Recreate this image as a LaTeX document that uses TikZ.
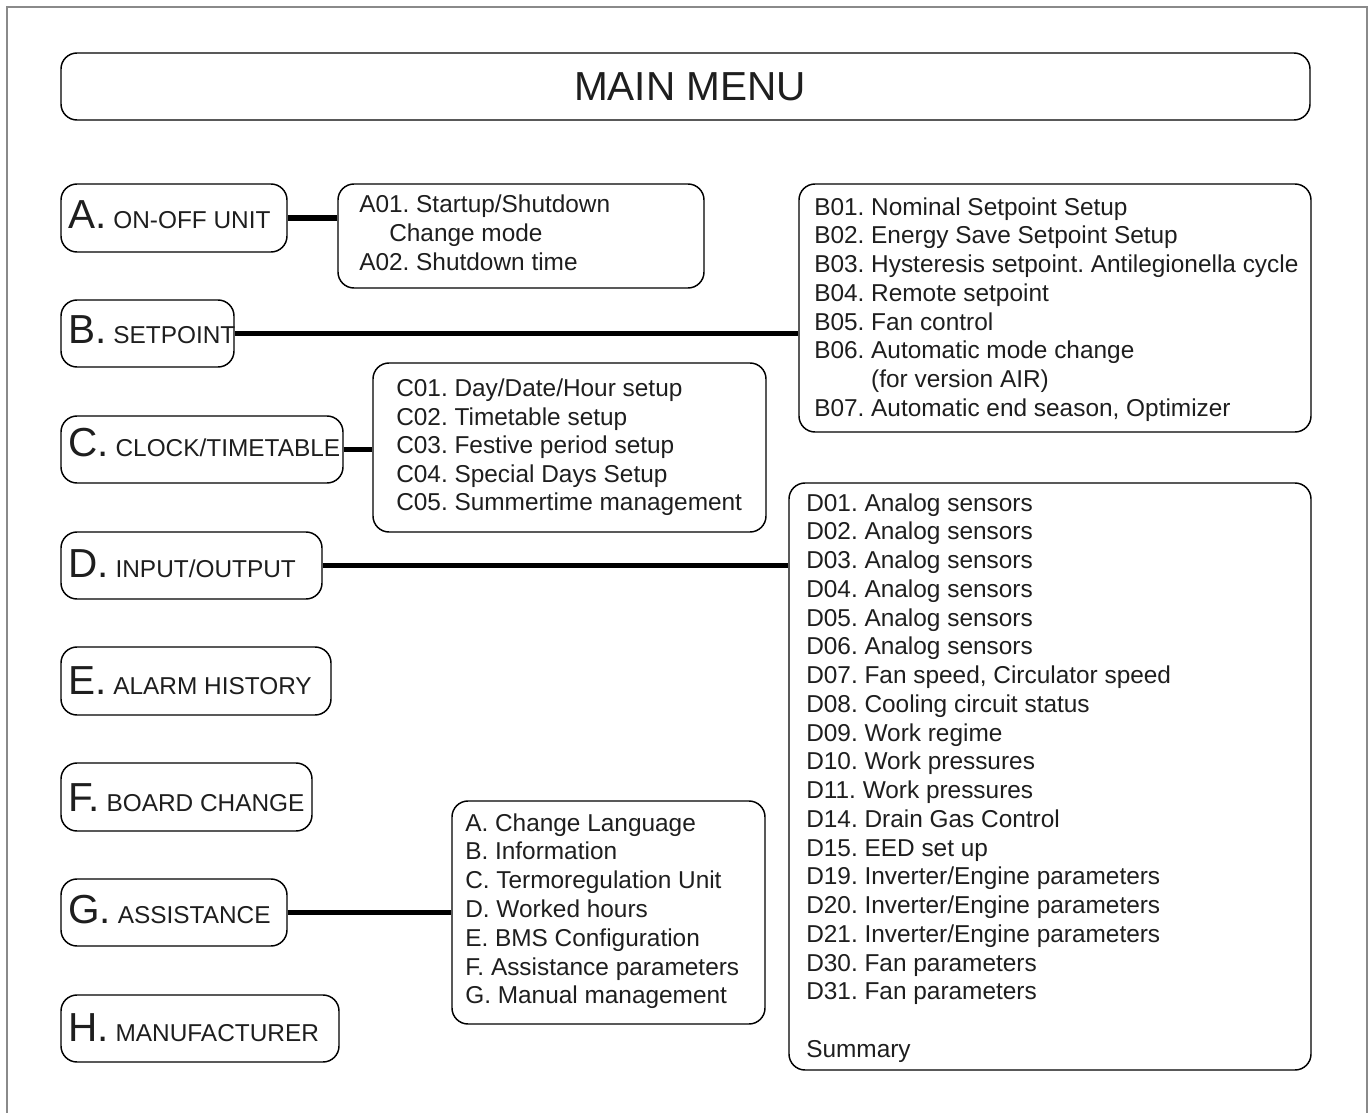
\documentclass[tikz,border=0pt]{standalone}
\usepackage{fontspec}
\setmainfont{Liberation Sans}
\usetikzlibrary{fit}
\frenchspacing
\newcommand{\bigf}{\fontsize{30.4}{36}\selectfont}
\newcommand{\smf}{\fontsize{18.3}{21.5}\selectfont}
\definecolor{ink}{HTML}{1E1E1E}
\definecolor{framegray}{HTML}{8A8A8A}
\begin{document}
\begin{tikzpicture}[x=0.75pt,y=-0.75pt,
  box/.style={draw=black, line width=1.1pt, rounded corners=12pt, inner sep=0pt},
  conn/.style={line width=3.8pt, draw=black},
  txt/.style={anchor=base west, inner sep=0pt, text=ink, font=\smf},
  lbl/.style={anchor=base west, inner sep=0pt, text=ink},
  frameline/.style={draw=framegray, line width=1.5pt}]
\useasboundingbox (0,0) rectangle (1368,1113);
\draw[frameline] (7,1113) -- (7,7) -- (1367,7) -- (1367,1113);

% main menu
\node[box, fit={(61,53) (1310,120)}] (menu) {};
\node[lbl, anchor=base, font=\bigf] (menutxt) at (690,101) {MAIN MENU};

% left menu boxes
\node[box, fit={(61,184) (287,252)}] (a) {};
\node[lbl] (alab) at (68,228) {\bigf A.\smf\ ON-OFF UNIT};
\node[box, fit={(61,300) (234,367)}] (b) {};
\node[box, fit={(61,416) (343,483)}] (c) {};
\node[lbl] (clab) at (68,456) {\bigf C.\smf\ CLOCK/TIMETABLE};
\node[box, fit={(61,532) (322,599)}] (d) {};
\node[lbl] (dlab) at (68,577) {\bigf D.\smf\ INPUT/OUTPUT};
\node[box, fit={(61,647) (331,715)}] (e) {};
\node[lbl] (elab) at (68,694) {\bigf E.\smf\ ALARM HISTORY};
\node[box, fit={(61,763) (312,831)}] (f) {};
\node[lbl] (flab) at (68,811) {\bigf F.\smf\ BOARD CHANGE};
\node[box, fit={(61,879) (287,946)}] (g) {};
\node[lbl] (glab) at (68,923) {\bigf G.\smf\ ASSISTANCE};
\node[box, fit={(61,995) (339,1062)}] (h) {};
\node[lbl] (hlab) at (68,1041) {\bigf H.\smf\ MANUFACTURER};

% sub boxes
\node[box, fit={(338,184) (704,288)}] (asub) {};
\node[txt] (a1) at (359,212) {A01. Startup/Shutdown};
\node[txt] (a2) at (389,241) {Change mode};
\node[txt] (a3) at (359,270.5) {A02. Shutdown time};

\node[box, fit={(799,184) (1311,432)}] (bsub) {};
\foreach \t [count=\i from 0] in {B01. Nominal Setpoint Setup, B02. Energy Save Setpoint Setup,
  B03. Hysteresis setpoint. Antilegionella cycle, B04. Remote setpoint, B05. Fan control,
  B06. Automatic mode change, {\phantom{B06. }(for version AIR)}, {B07. Automatic end season, Optimizer}}
  \node[txt] (b-\i) at (814,{215+\i*28.75}) {\t};

\node[box, fit={(373,363) (766,532)}] (csub) {};
\foreach \t [count=\i from 0] in {C01. Day/Date/Hour setup, C02. Timetable setup,
  C03. Festive period setup, C04. Special Days Setup, C05. Summertime management}
  \node[txt] (c-\i) at (396,{396.5+\i*28.5}) {\t};

\node[box, fit={(789,483) (1311,1070)}] (dsub) {};
\foreach \t [count=\i from 0] in {D01. Analog sensors, D02. Analog sensors, D03. Analog sensors,
  D04. Analog sensors, D05. Analog sensors, D06. Analog sensors,
  {D07. Fan speed, Circulator speed}, D08. Cooling circuit status, D09. Work regime,
  D10. Work pressures, D11. Work pressures, D14. Drain Gas Control, D15. EED set up,
  D19. Inverter/Engine parameters, D20. Inverter/Engine parameters,
  D21. Inverter/Engine parameters, D30. Fan parameters, D31. Fan parameters}
  \node[txt] (d-\i) at (806,{511+\i*28.76}) {\t};
\node[txt] (dsum) at (806,{511+19*28.76}) {Summary};

\node[box, fit={(452,801) (765,1024)}] (gsub) {};
\foreach \t [count=\i from 0] in {A. Change Language, B. Information, C. Termoregulation Unit,
  D. Worked hours, E. BMS Configuration, F. Assistance parameters, G. Manual management}
  \node[txt] (g-\i) at (465,{831+\i*28.8}) {\t};

% connectors
\draw[conn] (a.east) -- (a.east -| asub.west);
\draw[conn] (b.east) -- (b.east -| bsub.west);
\draw[conn] (c.east) -- (c.east -| csub.west);
\draw[conn] (d.east) -- (d.east -| dsub.west);
\draw[conn] (g.east) -- (g.east -| gsub.west);
\node[lbl] (blab) at (68,343) {\bigf B.\smf\ SETPOINT};
\end{tikzpicture}
\end{document}
